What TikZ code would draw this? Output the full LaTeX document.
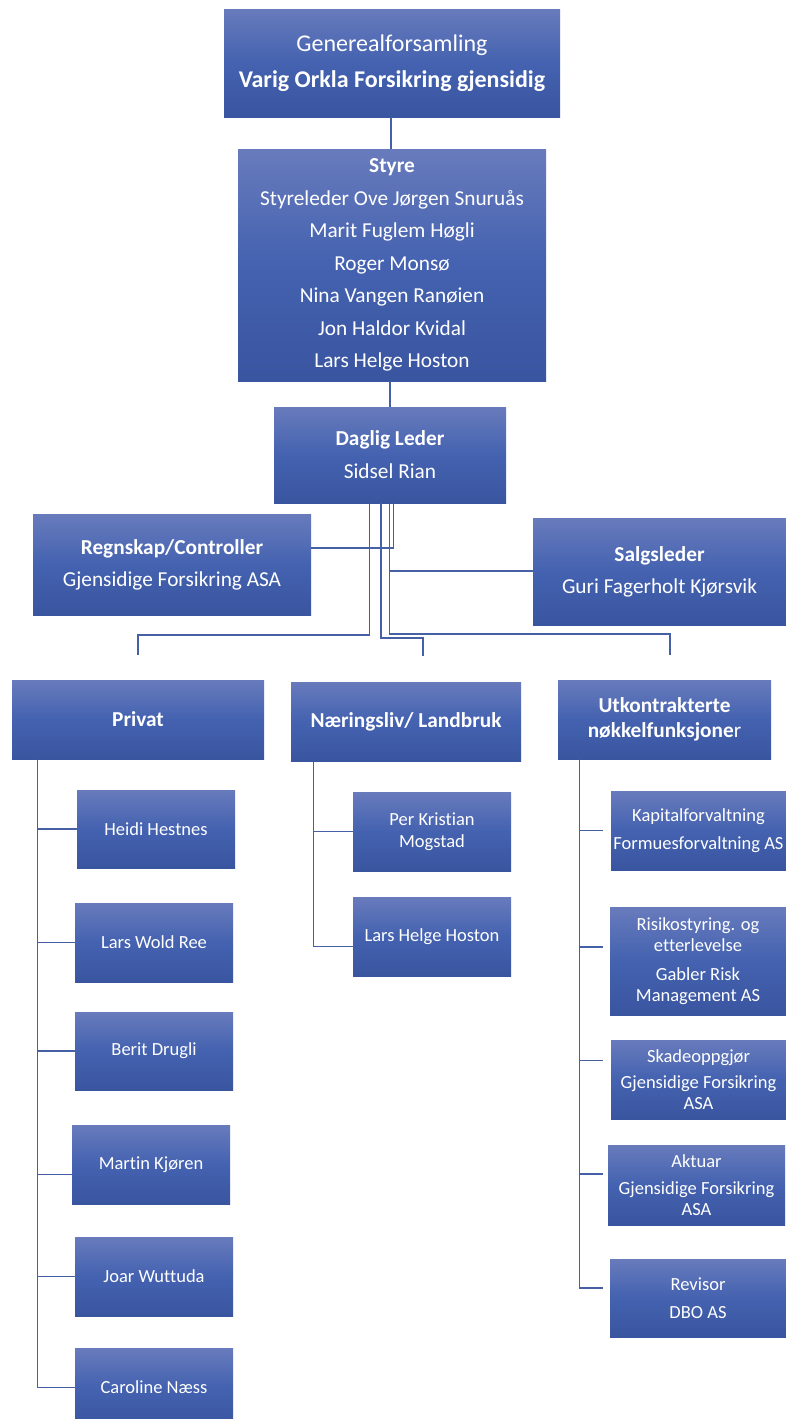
\documentclass[tikz,border=0pt]{standalone}
\usepackage{fontspec}
\setmainfont{Carlito}[Ligatures=NoCommon,RawFeature={-liga}]
\usetikzlibrary{calc}
\definecolor{gtop}{RGB}{104,123,188}
\definecolor{gmid}{RGB}{68,98,176}
\definecolor{gbot}{RGB}{58,85,160}
\definecolor{conn}{RGB}{70,96,166}
\tikzset{
  orgbox/.style={rectangle, inner sep=0pt, top color=gtop, bottom color=gbot, middle color=gmid, text=white, align=center, draw=none},
  link/.style={draw=conn, line width=1.2pt},
}
\newcommand{\bx}[6]{% name, x1,y1,x2,y2, font
  \node[orgbox, minimum width={#4-#2}, minimum height={#5-#3}, font=#6] (#1) at ({(#2+#4)/2},{(#3+#5)/2})}
\newcommand{\bigf}{\fontsize{24}{36}\selectfont}
\newcommand{\midf}{\fontsize{21.3}{32.5}\selectfont}
\newcommand{\smf}{\fontsize{18.5}{20.5}\selectfont}
\begin{document}
\begin{tikzpicture}[x=1pt,y=-1pt]
\clip (0,0) rectangle (786,1419);
\fill[white] (0,0) rectangle (786,1419);
% top level
\bx{gen}{224}{9}{560}{117}{\bigf}{Generealforsamling\\\textbf{Varig Orkla Forsikring gjensidig}};
\bx{styre}{238}{149}{546}{381}{\midf}{\textbf{Styre}\\Styreleder Ove Jørgen Snuruås\\Marit Fuglem Høgli\\Roger Monsø\\Nina Vangen Ranøien\\Jon Haldor Kvidal\\Lars Helge Hoston};
\bx{daglig}{274}{407}{506}{503}{\fontsize{21.3}{33}\selectfont}{\textbf{Daglig Leder}\\Sidsel Rian};
\bx{regn}{33}{514}{311}{615}{\fontsize{21.3}{32}\selectfont}{\textbf{Regnskap/Controller}\\Gjensidige Forsikring ASA};
\bx{salg}{533}{518}{786}{625}{\fontsize{21.3}{32}\selectfont}{\textbf{Salgsleder}\\Guri Fagerholt Kjørsvik};
% second level
\bx{privat}{12}{680}{264}{759}{\fontsize{21.3}{25}\selectfont}{\textbf{Privat}};
\bx{naer}{291}{682}{521}{761}{\fontsize{21.3}{25}\selectfont}{\textbf{Næringsliv/ Landbruk}};
\bx{utk}{558}{680}{771}{759}{\fontsize{21.3}{25}\selectfont}{\textbf{Utkontrakterte}\\\textbf{nøkkelfunksjone}r};
% privat children
\bx{heidi}{77}{790}{235}{868}{\smf}{Heidi Hestnes};
\bx{lars}{75}{903}{233}{982}{\smf}{Lars Wold Ree};
\bx{berit}{75}{1012}{233}{1090}{\smf}{Berit Drugli};
\bx{martin}{72}{1125}{230}{1204}{\smf}{Martin Kjøren};
\bx{joar}{75}{1237}{233}{1316}{\smf}{Joar Wuttuda};
\bx{caroline}{75}{1348}{233}{1427}{\smf}{Caroline Næss};
% naeringsliv children
\bx{per}{353}{792}{511}{871}{\fontsize{18.5}{22}\selectfont}{Per Kristian\\Mogstad};
\bx{lhh}{353}{897}{511}{976}{\smf}{Lars Helge Hoston};
% utkontrakterte children
\bx{kap}{611}{791}{786}{870}{\smf}{Kapitalforvaltning\\[8pt]Formuesforvaltning AS};
\bx{risk}{610}{907}{786}{1015}{\smf}{Risikostyring. og\\etterlevelse\\[9pt]Gabler Risk\\Management AS};
\bx{skade}{611}{1040}{786}{1119}{\smf}{Skadeoppgjør\\[6pt]Gjensidige Forsikring\\ASA};
\bx{aktuar}{608}{1145}{785}{1225}{\smf}{Aktuar\\[7pt]Gjensidige Forsikring\\ASA};
\bx{revisor}{610}{1259}{786}{1337}{\smf}{Revisor\\[8pt]DBO AS};
% connectors top
\draw[link] (gen.south -| 391,0) -- (styre.north -| 391,0);
\draw[link] (styre.south -| 390,0) -- (daglig.north -| 390,0);
% from daglig leder
\coordinate (dA) at (daglig.south -| 369.5,0);
\coordinate (dB) at (daglig.south -| 381,0);
\coordinate (dC) at (daglig.south -| 389.5,0);
\coordinate (dD) at (daglig.south -| 393.5,0);
\draw[link] (dD) |- (regn.east |- 0,548);
\draw[link] (dC) |- (salg.west |- 0,571);
\coordinate (pTop) at (138,655);
\coordinate (nTop) at (423,656);
\coordinate (uTop) at (670,655);
\draw[link] (dA) |- (138,635) -- (pTop);
\draw[link] (dB) |- (423,638) -- (nTop);
\draw[link] (dC) |- (670,634) -- (uTop);
% privat tree
\coordinate (pv) at ($(privat.south west)+(26,0)$);
\draw[link] (pv) |- (heidi.west);
\draw[link] (pv) |- (lars.west);
\draw[link] (pv) |- (berit.west);
\draw[link] (pv) |- ([yshift=-10pt]martin.west);
\draw[link] (pv) |- (joar.west);
\draw[link] (pv) |- (caroline.west);
% naeringsliv tree
\coordinate (nv) at ($(naer.south west)+(22.5,0)$);
\draw[link] (nv) |- (per.west);
\draw[link] (nv) |- ([yshift=-10pt]lhh.west);
% utk tree
\coordinate (uv) at ($(utk.south west)+(22,0)$);
\draw[link] (uv) |- ([xshift=-8pt]kap.west);
\draw[link] (uv) |- ([xshift=-7pt,yshift=14pt]risk.west);
\draw[link] (uv) |- ([xshift=-8pt,yshift=19pt]skade.west);
\draw[link] (uv) |- ([xshift=-5pt,yshift=11pt]aktuar.west);
\draw[link] (uv) |- ([xshift=-7pt,yshift=10pt]revisor.west);
\end{tikzpicture}
\end{document}
